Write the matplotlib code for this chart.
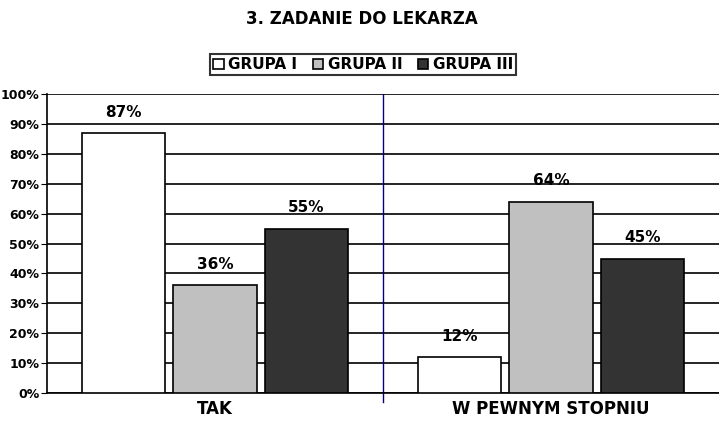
import matplotlib.pyplot as plt
import numpy as np

plt.rcParams['font.family'] = ['DejaVu Sans']

categories = ["TAK", "W PEWNYM STOPNIU"]
groups = ["GRUPA I", "GRUPA II", "GRUPA III"]
values = {
    "GRUPA I": [87, 12],
    "GRUPA II": [36, 64],
    "GRUPA III": [55, 45],
}
colors = ["white", "#c0c0c0", "#333333"]
y_ticks = [0, 10, 20, 30, 40, 50, 60, 70, 80, 90, 100]

fig = plt.figure(figsize=(7.19, 4.24), dpi=100)
ax = fig.add_axes([0.0654, 0.073, 0.9346, 0.705])

x = np.arange(len(categories)) + 0.5
width = 0.248
step = 0.272
for i, g in enumerate(groups):
    pos = x + (i - 1) * step
    bars = ax.bar(pos, values[g], width, color=colors[i], edgecolor="black",
                  linewidth=1.2, label=g, zorder=3)
    for b, v in zip(bars, values[g]):
        ax.text(b.get_x() + b.get_width() / 2, v + 4.5, f"{v}%", ha="center",
                va="bottom", fontsize=11, fontweight="bold")

ax.set_xlim(0, 2)
ax.set_ylim(0, 100)
ax.set_yticks(y_ticks)
ax.set_yticklabels([f"{t}%" for t in y_ticks], fontsize=9, fontweight="bold")
ax.set_xticks(x)
ax.set_xticklabels(categories, fontsize=12, fontweight="bold")
ax.tick_params(axis="x", length=0, pad=5)
ax.tick_params(axis="y", length=4, direction="out", pad=1.5)
ax.yaxis.grid(True, color="black", linewidth=1.2, zorder=0)
ax.set_axisbelow(True)
ax.axvline(1, color="#000080", linewidth=1, zorder=2)
ax.plot([1, 1], [0, -0.03], color="#000080", linewidth=1,
        transform=ax.get_xaxis_transform(), clip_on=False)

for s in ["top", "right"]:
    ax.spines[s].set_visible(False)
ax.spines["left"].set_linewidth(1.2)
ax.spines["bottom"].set_linewidth(1.2)

fig.text(0.503, 0.955, "3. ZADANIE DO LEKARZA", ha="center", va="center",
         fontsize=12, fontweight="bold")
leg = fig.legend(loc="center", bbox_to_anchor=(0.505, 0.847), ncol=3,
                 fontsize=11, frameon=True, fancybox=False, edgecolor="black",
                 handlelength=0.7, handleheight=0.7, handletextpad=0.3,
                 columnspacing=1.0, borderpad=0.2)
leg.get_frame().set_linewidth(1.5)
for t in leg.get_texts():
    t.set_fontweight("bold")

fig.savefig("out.png", dpi=100)
